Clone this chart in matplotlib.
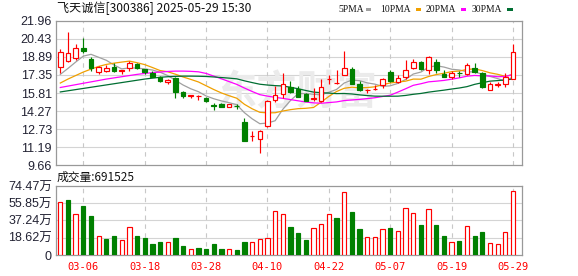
import matplotlib
matplotlib.use("Agg")
import matplotlib.pyplot as plt
import numpy as np
import pandas as pd
from matplotlib.patches import Rectangle

# ---------------- data ----------------
dates = ["03-03", "03-04", "03-05", "03-06", "03-07", "03-10", "03-11", "03-12", "03-13", "03-14",
         "03-17", "03-18", "03-19", "03-20", "03-21", "03-24", "03-25", "03-26", "03-27", "03-28",
         "03-31", "04-01", "04-02", "04-03", "04-07", "04-08", "04-09", "04-10", "04-11", "04-14",
         "04-15", "04-16", "04-17", "04-18", "04-21", "04-22", "04-23", "04-24", "04-25", "04-28",
         "04-29", "04-30", "05-06", "05-07", "05-08", "05-09", "05-12", "05-13", "05-14", "05-15",
         "05-16", "05-19", "05-20", "05-21", "05-22", "05-23", "05-26", "05-27", "05-28", "05-29"]

opens = [18.00, 18.52, 18.80, 19.69, 18.75, 17.58, 17.66, 18.03, 17.72, 17.95,
         18.26, 17.86, 17.52, 17.18, 16.72, 17.12, 15.90, 15.56, 15.54, 15.39,
         14.76, 14.85, 14.65, 14.70, 13.37, 12.10, 11.85, 12.95, 15.22, 15.70,
         16.28, 16.15, 15.74, 15.33, 15.13, 17.00, 16.65, 17.37, 17.82, 16.55,
         16.06, 16.12, 16.46, 17.60, 16.75, 17.20, 17.96, 18.47, 17.77, 18.50,
         17.45, 17.20, 17.53, 17.45, 17.91, 17.48, 16.07, 16.52, 16.60, 17.03]
closes = [19.30, 19.23, 19.66, 19.43, 17.95, 18.03, 17.95, 17.66, 17.75, 18.38,
          17.95, 17.58, 17.21, 16.81, 16.95, 15.92, 15.58, 15.60, 15.56, 15.13,
          14.73, 14.65, 14.85, 14.67, 11.73, 12.13, 12.56, 15.12, 15.67, 16.60,
          15.90, 15.50, 15.15, 15.36, 16.32, 17.03, 16.70, 17.91, 16.60, 16.07,
          16.10, 16.15, 16.97, 16.83, 17.11, 17.77, 18.47, 17.82, 18.90, 17.74,
          17.20, 17.54, 17.50, 18.16, 17.60, 16.32, 16.55, 16.56, 17.14, 19.33]
highs = [19.55, 21.00, 20.03, 20.52, 18.89, 18.09, 18.23, 18.38, 17.81, 18.52,
         18.38, 17.72, 17.66, 17.29, 17.04, 17.20, 15.98, 15.66, 15.61, 15.47,
         14.93, 14.93, 14.87, 14.85, 13.71, 12.58, 12.62, 15.20, 16.41, 17.48,
         16.87, 16.41, 15.85, 16.24, 17.00, 17.39, 17.74, 19.44, 18.02, 16.80,
         16.18, 16.46, 17.06, 17.74, 17.31, 18.62, 18.73, 18.56, 19.01, 18.73,
         17.74, 17.68, 17.68, 18.33, 18.39, 17.62, 16.75, 16.75, 17.48, 20.03]
lows = [17.50, 18.43, 18.60, 19.23, 17.66, 17.44, 17.58, 17.63, 17.44, 17.66,
        17.89, 17.47, 17.15, 16.72, 16.58, 15.41, 15.39, 15.39, 15.19, 15.07,
        14.36, 14.59, 14.62, 14.48, 11.73, 11.70, 10.71, 12.93, 15.05, 15.41,
        15.84, 15.48, 15.10, 15.10, 15.03, 16.60, 16.62, 17.31, 16.55, 15.98,
        15.84, 16.07, 16.26, 16.75, 16.69, 17.03, 17.82, 17.77, 17.45, 17.54,
        17.20, 17.00, 17.20, 17.31, 17.54, 16.27, 16.07, 16.30, 16.30, 17.03]
# volume in 万 (10k shares)
volumes = [56.9, 59.4, 44.4, 53.0, 42.2, 20.4, 17.5, 20.8, 16.1, 30.1,
           20.8, 18.6, 12.2, 14.3, 14.3, 18.6, 10.0, 6.4, 7.9, 6.8,
           12.2, 6.8, 6.4, 5.7, 14.3, 14.0, 17.2, 18.3, 47.3, 44.4,
           30.4, 24.0, 16.5, 29.0, 33.7, 44.4, 40.1, 67.7, 46.5, 28.3,
           19.3, 19.3, 27.9, 29.4, 25.8, 50.5, 45.1, 32.6, 49.4, 32.6,
           20.8, 14.3, 15.4, 31.1, 20.8, 25.1, 12.9, 11.8, 25.1, 69.1525]

# moving-average values before each window is full
ma5_head = [17.40, 17.91, 18.45, 18.96]
ma10_head = [16.66, 17.00, 17.30, 17.60, 17.85, 18.08, 18.25, 18.36, 18.45]
ma20_head = [16.28, 16.40, 16.52, 16.64, 16.76, 16.88, 17.00, 17.10, 17.20, 17.30,
             17.40, 17.48, 17.55, 17.60, 17.65, 17.68, 17.68, 17.66, 17.62]
ma30_head = [15.90, 16.00, 16.10, 16.20, 16.30, 16.40, 16.50, 16.60, 16.70, 16.80,
             16.90, 17.00, 17.08, 17.15, 17.20, 17.23, 17.25, 17.25, 17.24, 17.22,
             17.18, 17.13, 17.08, 17.02, 16.85, 16.70, 16.56, 16.49, 16.44]

price_ticks = [9.66, 11.19, 12.73, 14.27, 15.81, 17.35, 18.89, 20.43, 21.96]
vol_ticks = [0, 18.62, 37.24, 55.85, 74.47]
vol_tick_labels = ["0", "18.62万", "37.24万", "55.85万", "74.47万"]
shown_dates = ["03-06", "03-18", "03-28", "04-10", "04-22", "05-07", "05-19", "05-29"]
title_text = "飞天诚信[300386] 2025-05-29 15:30"
vol_title = "成交量:691525"
watermark = "东方财富"
ma_names = ["5PMA", "10PMA", "20PMA", "30PMA"]

# ---------------- style ----------------
RED = "#ff0000"
GREEN = "#008000"
MA_COLORS = ["#a0a0a0", "#f0a000", "#ff00ff", "#006e32"]
GRID = "#d4d4d4"
VGRID = "#c8c8c8"
SPINE = "#999999"
LABEL = "#222233"
CJK = ["Noto Sans CJK SC", "DejaVu Sans"]
NUM = ["Liberation Sans", "Noto Sans CJK SC"]

W, H = 578, 276
fig = plt.figure(figsize=(W / 100, H / 100), dpi=100)
fig.patch.set_facecolor("white")


def ax_rect(left, top, right, bottom):
    return [left / W, 1 - bottom / H, (right - left) / W, (bottom - top) / H]


axp = fig.add_axes(ax_rect(56, 21, 522, 165))
axv = fig.add_axes(ax_rect(56, 186, 522, 255))

n = len(closes)
x = np.arange(n)
o = np.array(opens)
c = np.array(closes)
hi = np.array(highs)
lo = np.array(lows)
v = np.array(volumes)
up = c >= o
prev = np.concatenate([[o[0]], c[:-1]])
vol_up = c >= prev
vol_up[0] = up[0]

XL = (-0.56, n - 1 + 1.17)
BW = 0.60
LW = 0.85

# ---------- price panel ----------
axp.set_xlim(*XL)
axp.set_ylim(price_ticks[0], price_ticks[-1])
for t in price_ticks[1:-1]:
    axp.axhline(t, color=GRID, lw=0.8, zorder=0)
tick_idx = [dates.index(d) for d in shown_dates]
for i in tick_idx:
    axp.axvline(i, color=VGRID, lw=0.8, ls=(0, (4, 4)), zorder=0)
    axv.axvline(i, color=VGRID, lw=0.8, ls=(0, (4, 4)), zorder=0)

axp.text(0.517, 0.50, watermark, transform=axp.transAxes, ha="center", va="center",
         fontsize=29, color="#ebebeb", family=CJK, fontweight="bold", zorder=0.5)

# moving averages
cs = pd.Series(c)
for head, win, col in zip([ma5_head, ma10_head, ma20_head, ma30_head], [5, 10, 20, 30], MA_COLORS):
    m = cs.rolling(win).mean().to_numpy()
    m[:win - 1] = head
    axp.plot(x, m, color=col, lw=0.9, zorder=2)

# candles
for up_flag, col in [(True, RED), (False, GREEN)]:
    sel = up == up_flag
    axp.vlines(x[sel], lo[sel], hi[sel], color=col, lw=LW, zorder=3)
    body = np.abs(c[sel] - o[sel])
    body = np.maximum(body, 0.001)
    if up_flag:
        axp.bar(x[sel], body, BW, bottom=np.minimum(o[sel], c[sel]), facecolor="white",
                edgecolor=col, linewidth=LW, zorder=4)
    else:
        axp.bar(x[sel], body, BW, bottom=np.minimum(o[sel], c[sel]), facecolor=col,
                edgecolor=col, linewidth=LW, zorder=4)

axp.set_yticks(price_ticks)
axp.set_yticklabels([f"{t:.2f}" for t in price_ticks], family=NUM, fontsize=9, color=LABEL)
axp.set_xticks([])
axp.tick_params(axis="y", length=0, pad=3)

# ---------- volume panel ----------
axv.set_xlim(*XL)
axv.set_ylim(0, vol_ticks[-1])
for t in vol_ticks[1:-1]:
    axv.axhline(t, color=GRID, lw=0.8, zorder=0)
axv.bar(x[vol_up], v[vol_up], 0.56, facecolor="white", edgecolor=RED, linewidth=LW, zorder=3)
axv.bar(x[~vol_up], v[~vol_up], 0.56, facecolor=GREEN, edgecolor=GREEN, linewidth=LW, zorder=3)
axv.set_yticks(vol_ticks)
axv.set_yticklabels(vol_tick_labels, family=NUM, fontsize=9, color=LABEL)
axv.set_xticks(tick_idx)
axv.set_xticklabels(shown_dates, family="DejaVu Sans Mono", fontsize=7.5, color=RED)
axv.tick_params(axis="y", length=0, pad=3)
axv.tick_params(axis="x", length=0, pad=5)

for a in (axp, axv):
    for s in a.spines.values():
        s.set_color(SPINE)
        s.set_linewidth(0.9)

# ---------- texts ----------
fig.text(57 / W, 1 - 8.5 / H, title_text, family=CJK, fontsize=8.7, color="#111111",
         ha="left", va="center")
fig.text(57 / W, 1 - 177 / H, vol_title, family=CJK, fontsize=8.5, color="#111111",
         ha="left", va="center")

leg_x = [338, 380, 425.7, 471.7]
sq_x = [365.5, 415.5, 460.5, 507]
for name, lx, sx, col in zip(ma_names, leg_x, sq_x, MA_COLORS):
    fig.text(lx / W, 1 - 9 / H, name, family="Liberation Serif", fontsize=6.9,
             color="#111111", ha="left", va="center")
    fig.patches.append(Rectangle((sx / W, 1 - 11 / H), 5.5 / W, 3.5 / H,
                                 transform=fig.transFigure, facecolor=col,
                                 edgecolor="none"))

fig.savefig("out.png", dpi=100, facecolor="white")
